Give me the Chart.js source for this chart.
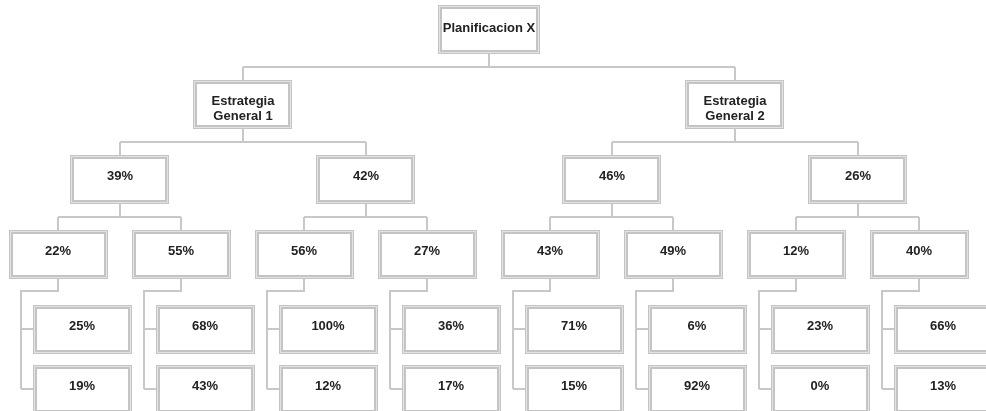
<!DOCTYPE html>
<html>
<head>
<meta charset="utf-8">
<script src="https://cdn.jsdelivr.net/npm/chart.js@4.4.1/dist/chart.umd.min.js"></script>
<style>
  html, body { margin: 0; background: #fff; }
  #wrap { width: 986px; height: 411px; }
</style>
</head>
<body>
<div id="wrap"><canvas id="arbol"></canvas></div>
<script>
// datos del arbol (por nivel, de izquierda a derecha)
const raiz = ['Planificacion X']
const estrategias = ['Estrategia\nGeneral 1', 'Estrategia\nGeneral 2']
const nivel2 = [39, 42, 46, 26]
const nivel3 = [22, 55, 56, 27, 43, 49, 12, 40]
const nivel4a = [25, 68, 100, 36, 71, 6, 23, 66]
const nivel4b = [19, 43, 12, 17, 15, 92, 0, 13]

const pct = v => v + '%'

// layout: x en "columnas" de hojas, y en niveles
const OFF = 24 / 123
const XMIN = -58 / 123, XMAX = XMIN + 986 / 123
const YMIN = -5 / 75, YMAX = YMIN + 411 / 75
const W = 99, H = 49
const GRIS = '#c4c4c4'

const niveles = [
  { textos: raiz, pts: raiz.map(() => ({ x: 3.5, y: 0 })), w: 102, dy: 23 },
  { textos: estrategias, pts: estrategias.map((_, k) => ({ x: 4 * k + 1.5, y: 1 })) },
  { textos: nivel2.map(pct), pts: nivel2.map((_, j) => ({ x: 2 * j + 0.5, y: 2 })) },
  { textos: nivel3.map(pct), pts: nivel3.map((_, i) => ({ x: i, y: 3 })) },
  { textos: nivel4a.map(pct), pts: nivel4a.map((_, i) => ({ x: i + OFF, y: 4 })) },
  { textos: nivel4b.map(pct), pts: nivel4b.map((_, i) => ({ x: i + OFF, y: 4.8 })) },
]

function caja(ctx, cx, top, w) {
  const l = Math.round(cx - w / 2), t = Math.round(top)
  ctx.fillStyle = GRIS;      ctx.fillRect(l, t, w, H)
  ctx.fillStyle = '#e3e3e3'; ctx.fillRect(l + 1, t + 1, w - 2, H - 2)
  ctx.fillStyle = GRIS;      ctx.fillRect(l + 2, t + 2, w - 4, H - 4)
  ctx.fillStyle = '#fff';    ctx.fillRect(l + 4, t + 4, w - 8, H - 8)
}

function linea(ctx, pts) {
  ctx.beginPath()
  pts.forEach(([x, y], i) => i ? ctx.lineTo(x, y) : ctx.moveTo(x, y))
  ctx.stroke()
}

const organigrama = {
  id: 'organigrama',
  afterDatasetsDraw(chart) {
    const ctx = chart.ctx
    const el = d => chart.getDatasetMeta(d).data
    ctx.save()
    ctx.strokeStyle = '#c8c8c8'
    ctx.lineWidth = 2
    // conectores niveles 0..3
    for (let d = 0; d < 3; d++) {
      const padres = el(d), hijos = el(d + 1)
      const n = hijos.length / padres.length
      padres.forEach((p, k) => {
        const hs = hijos.slice(k * n, k * n + n)
        const cx = Math.round(p.x), bot = p.y + H
        const yb = Math.round((bot + hs[0].y) / 2)
        linea(ctx, [[cx, bot], [cx, yb]])
        linea(ctx, [[Math.round(hs[0].x), yb], [Math.round(hs[n - 1].x), yb]])
        hs.forEach(h => linea(ctx, [[Math.round(h.x), yb], [Math.round(h.x), h.y]]))
      })
    }
    // conectores nivel 3 -> hojas
    const a = el(4), b = el(5)
    el(3).forEach((p, i) => {
      const cx = Math.round(p.x), bot = p.y + H
      const yb = Math.round(bot + 12), xl = cx - 37
      const ya = Math.round(a[i].y + H / 2), yz = Math.round(b[i].y + H / 2)
      linea(ctx, [[cx, bot], [cx, yb], [xl, yb], [xl, yz]])
      linea(ctx, [[xl, ya], [Math.round(a[i].x - W / 2), ya]])
      linea(ctx, [[xl, yz], [Math.round(b[i].x - W / 2), yz]])
    })
    // cajas y textos
    ctx.font = 'bold 13px "Liberation Sans", Arial, sans-serif'
    ctx.textAlign = 'center'
    ctx.textBaseline = 'middle'
    niveles.forEach((nv, d) => {
      el(d).forEach((p, i) => {
        caja(ctx, p.x, p.y, nv.w || W)
        ctx.fillStyle = '#222'
        nv.textos[i].split('\n').forEach((s, j) =>
          ctx.fillText(s, Math.round(p.x), Math.round(p.y) + (nv.dy || 21) + j * 15))
      })
    })
    ctx.restore()
  }
}

new Chart(document.getElementById('arbol'), {
  type: 'scatter',
  data: {
    datasets: niveles.map((nv, d) => ({ label: 'nivel ' + d, data: nv.pts, pointRadius: 0, pointHoverRadius: 0 }))
  },
  options: {
    responsive: true, maintainAspectRatio: false, animation: false,
    layout: { padding: 0 },
    plugins: { legend: { display: false }, tooltip: { enabled: false } },
    events: [],
    scales: {
      x: { type: 'linear', display: false, min: XMIN, max: XMAX },
      y: { type: 'linear', display: false, reverse: true, min: YMIN, max: YMAX }
    }
  },
  plugins: [organigrama]
})
</script>
</body>
</html>
